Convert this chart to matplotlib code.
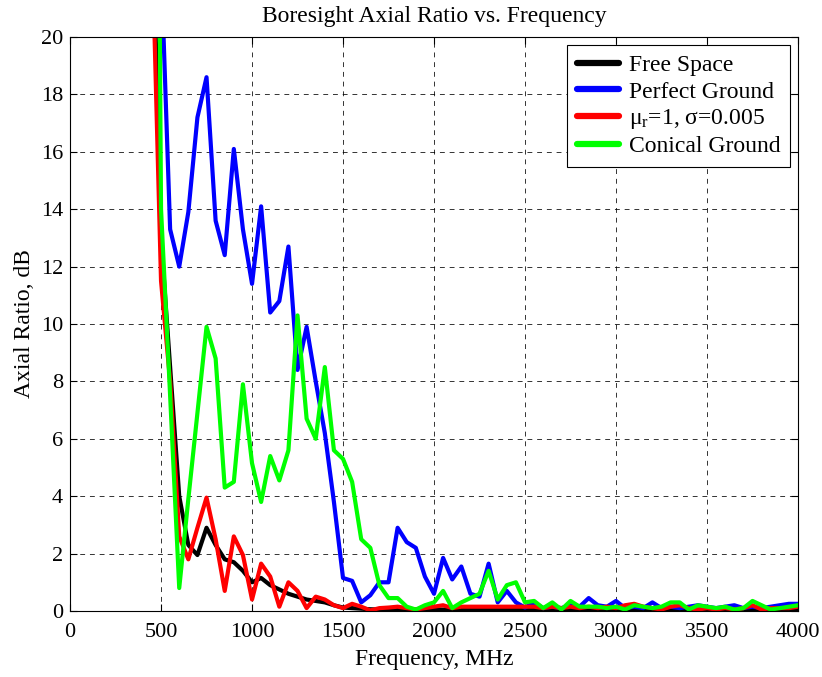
import numpy as np
import matplotlib
matplotlib.use('Agg')
import matplotlib.pyplot as plt

plt.rcParams['font.family'] = 'Liberation Serif'
plt.rcParams['mathtext.fontset'] = 'custom'
plt.rcParams['mathtext.rm'] = 'Liberation Serif'
plt.rcParams['mathtext.it'] = 'Liberation Serif:italic'

# frequency grid, MHz
freq = np.arange(400, 4001, 50)

# axial ratio (dB) for each ground model
free_space = [40, 25, 13, 8.5, 4.0, 2.3, 1.95, 2.9, 2.3, 1.8, 1.7, 1.4, 1.0, 1.15, 0.9, 0.75,
              0.6, 0.5, 0.4, 0.35, 0.3, 0.2, 0.12, 0.1, 0.08, 0.06, 0.05, 0.05, 0.05, 0.05,
              0.05, 0.05, 0.05, 0.05, 0.05, 0.05, 0.05, 0.05, 0.05, 0.05, 0.05, 0.05, 0.05,
              0.05, 0.04, 0.05, 0.04, 0.05, 0.05, 0.04, 0.05, 0.05, 0.04, 0.05, 0.05, 0.04,
              0.05, 0.05, 0.04, 0.05, 0.05, 0.04, 0.05, 0.05, 0.04, 0.05, 0.05, 0.04, 0.05,
              0.05, 0.04, 0.05, 0.05]

perfect_ground = [60, 45, 22.6, 13.3, 12.0, 13.9, 17.2, 18.6, 13.6, 12.4, 16.1, 13.3, 11.4,
                  14.1, 10.4, 10.8, 12.7, 8.4, 9.9, 8.0, 6.2, 3.8, 1.15, 1.05, 0.3, 0.55, 1.0,
                  1.0, 2.9, 2.4, 2.2, 1.2, 0.6, 1.85, 1.1, 1.55, 0.6, 0.5, 1.65, 0.3, 0.7, 0.3,
                  0.12,
                  0.3, 0.1, 0.15, 0.1, 0.2, 0.15, 0.45, 0.2, 0.15, 0.35, 0.1, 0.15, 0.1, 0.3,
                  0.1, 0.15, 0.1, 0.15, 0.2, 0.15, 0.1, 0.15, 0.2, 0.1, 0.15, 0.1, 0.15, 0.2,
                  0.25, 0.25]

lossy_ground = [35, 23.5, 11.5, 8.0, 2.6, 1.8, 2.9, 3.95, 2.5, 0.7, 2.6, 1.95, 0.4, 1.65, 1.2,
                0.15, 1.0, 0.7, 0.1, 0.5, 0.4, 0.2, 0.1, 0.25, 0.15, 0.02, 0.1, 0.12, 0.15,
                0.1, 0.05, 0.1, 0.15, 0.2, 0.1, 0.15, 0.15, 0.15, 0.15, 0.15, 0.15, 0.15, 0.15,
                0.15, 0.1, 0.15, 0.1, 0.15, 0.1, 0.15, 0.1, 0.15, 0.1, 0.2, 0.25, 0.15, 0.1,
                0.05, 0.15, 0.2, 0.1, 0.05, 0.1, 0.05, 0.1, 0.05, 0.1, 0.2, 0.05, 0.1, 0.1,
                0.1, 0.15]

conical_ground = [80, 60, 14, 7.5, 0.8, 3.9, 6.9, 9.9, 8.8, 4.3, 4.5, 7.9, 5.15, 3.8, 5.4, 4.55,
                  5.6, 10.3, 6.7, 6.0, 8.5, 5.6, 5.3, 4.5, 2.5, 2.2, 0.9, 0.45, 0.45, 0.15,
                  0.05, 0.2, 0.3, 0.7, 0.1, 0.3, 0.45, 0.6, 1.4, 0.4, 0.9, 1.0, 0.3,
                  0.35, 0.1, 0.3, 0.05, 0.35, 0.15, 0.15, 0.15, 0.1, 0.15, 0.05, 0.2, 0.15, 0.1,
                  0.15, 0.3, 0.3, 0.05, 0.2, 0.15, 0.1, 0.15, 0.05, 0.1, 0.35, 0.2, 0.05, 0.1,
                  0.15, 0.2]

fig = plt.figure(figsize=(8.22, 6.77), dpi=100)
ax = fig.add_axes([0.0852, 0.0975, 0.8856, 0.8478])

ax.plot(freq, free_space, color='k', lw=3, label='Free Space')
ax.plot(freq, perfect_ground, color='#0000ff', lw=3, label='Perfect Ground')
ax.plot(freq, lossy_ground, color='#ff0000', lw=3, label='μ$_\\mathrm{r}$=1, σ=0.005')
ax.plot(freq, conical_ground, color='#00ff00', lw=3, label='Conical Ground')

ax.set_xlim(0, 4000)
ax.set_ylim(0, 20)
ax.set_xticks(np.arange(0, 4001, 500))
ax.set_yticks(np.arange(0, 21, 2))
ax.tick_params(direction='in', top=True, right=True, length=5, labelsize=16)
ax.tick_params(axis='x', pad=9)
ax.tick_params(axis='y', pad=5)
ax.grid(True, color='k', linestyle=(0, (5, 5)), lw=0.7, alpha=0.8)
for s in ax.spines.values():
    s.set_linewidth(0.8)

ax.set_title('Boresight Axial Ratio vs. Frequency', fontsize=17, pad=11)
ax.set_xlabel('Frequency, MHz', fontsize=17, labelpad=5)
ax.set_ylabel('Axial Ratio, dB', fontsize=17, labelpad=4)

leg = ax.legend(loc='upper right', fontsize=17, fancybox=False, framealpha=1,
                edgecolor='k', borderaxespad=0.35, handlelength=1.8,
                handletextpad=0.4, labelspacing=0.2, borderpad=0.4)
leg.get_frame().set_linewidth(0.8)
for line in leg.get_lines():
    line.set_linewidth(4.5)
    line.set_solid_capstyle('round')

fig.savefig('out.png', dpi=100)
